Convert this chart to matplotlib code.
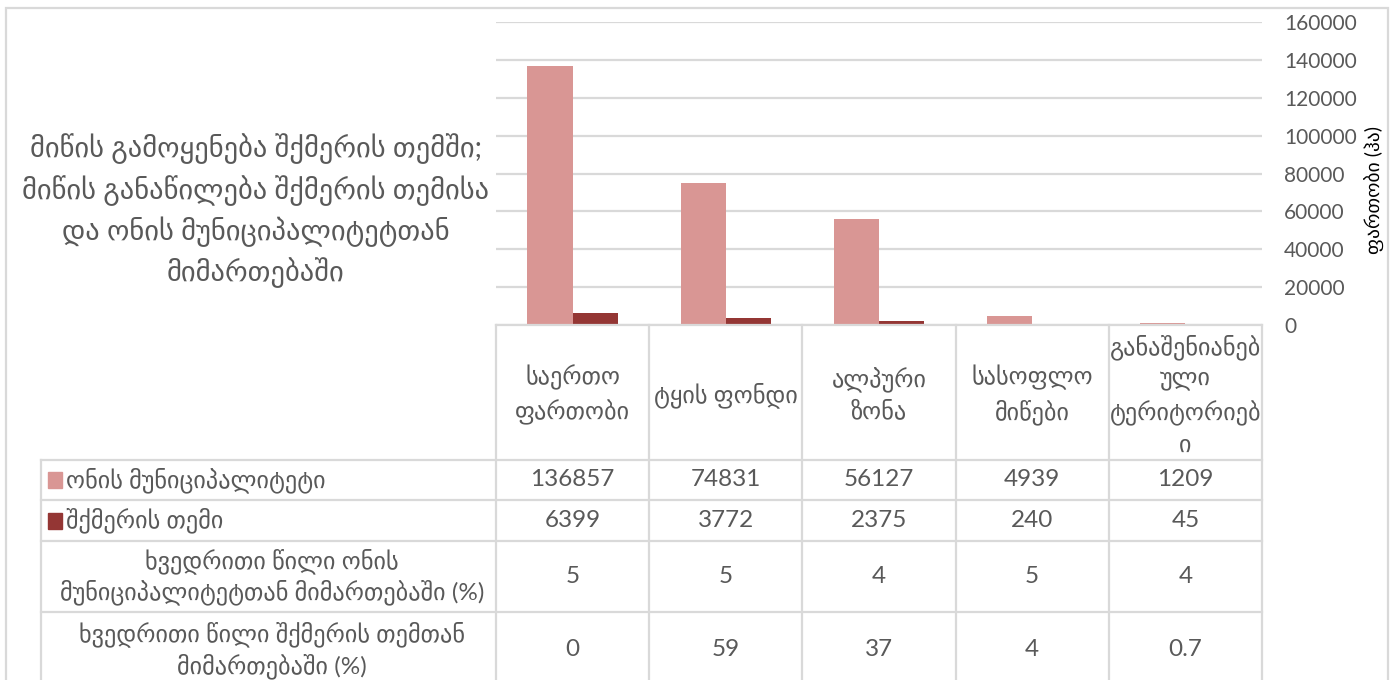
import matplotlib
matplotlib.use("Agg")
import matplotlib.pyplot as plt
from matplotlib.lines import Line2D
from matplotlib.patches import Rectangle

# data
categories = ["საერთო\nფართობი", "ტყის ფონდი", "ალპური\nზონა", "სასოფლო\nმიწები",
              "განაშენიანებ\nული\nტერიტორიებ\nი"]
oni = [136857, 74831, 56127, 4939, 1209]
shkmeri = [6399, 3772, 2375, 240, 45]
share_oni = ["5", "5", "4", "5", "4"]
share_shkmeri = ["0", "59", "37", "4", "0.7"]
series_names = ["ონის მუნიციპალიტეტი", "შქმერის თემი"]
extra_rows = ["ხვედრითი წილი ონის\nმუნიციპალიტეტთან მიმართებაში (%)",
              "ხვედრითი წილი შქმერის თემთან\nმიმართებაში (%)"]
title = "მიწის გამოყენება შქმერის თემში;\nმიწის განაწილება შქმერის თემისა\nდა ონის მუნიციპალიტეტთან\nმიმართებაში"
ylabel = "ფართობი (ჰა)"

pink = "#D99694"
dark = "#943634"
grid_c = "#D9D9D9"
text_c = "#595959"
fonts = ["Lato", "DejaVu Sans"]
tsize = 17.5

W, H = 1394, 680
fig = plt.figure(figsize=(W / 100, H / 100), dpi=100)


def fx(x):
    return x / W


def fy(y):
    return 1 - y / H


def hline(y, x0, x1):
    fig.add_artist(Line2D([fx(x0), fx(x1)], [fy(y), fy(y)], color=grid_c, lw=1.6))


def vline(x, y0, y1):
    fig.add_artist(Line2D([fx(x), fx(x)], [fy(y0), fy(y1)], color=grid_c, lw=1.6))


# plot area
left, right, top, base = 496, 1262, 22, 325
ax = fig.add_axes([fx(left), fy(base), fx(right - left), (base - top) / H])
n = len(categories)
w = 0.295
xs = list(range(n))
ax.bar([x - w / 2 for x in xs], oni, width=w, color=pink, zorder=3)
ax.bar([x + w / 2 for x in xs], shkmeri, width=w, color=dark, zorder=3)
ax.set_xlim(-0.5, n - 0.5)
ax.set_ylim(0, 160000)
ax.set_yticks(range(0, 160001, 20000))
ax.yaxis.tick_right()
ax.tick_params(axis="y", length=0, pad=16, labelsize=15, labelcolor=text_c)
for lab in ax.get_yticklabels():
    lab.set_family(fonts)
ax.set_xticks([])
ax.grid(axis="y", color=grid_c, lw=1.6, zorder=0)
for s in ax.spines.values():
    s.set_visible(False)

fig.text(fx(1375), fy(190), ylabel, rotation=90, ha="center", va="center",
         fontsize=14, color="black", family=fonts)

# title
fig.text(fx(256), fy(211), title, ha="center", va="center", fontsize=20.5,
         color=text_c, family=fonts, linespacing=1.45)

# outer border
fig.add_artist(Rectangle((fx(6), -0.05), fx(1388 - 6), fy(8) + 0.05, fill=False,
                         edgecolor=grid_c, lw=1.6))

# data table
col_x = [left + (right - left) * i / n for i in range(n + 1)]
row_y = [460, 500, 541, 612, 700]
hline(base, left, right)
for y in row_y[:-1]:
    hline(y, 41, right)
vline(41, 460, 700)
for x in col_x:
    vline(x, base, 700)

for i, cat in enumerate(categories):
    cx = (col_x[i] + col_x[i + 1]) / 2
    fig.text(fx(cx), fy(395), cat, ha="center", va="center",
             fontsize=tsize, color=text_c, family=fonts, linespacing=1.5)

rows = [oni, shkmeri, share_oni, share_shkmeri]
for r, vals in enumerate(rows):
    cy = (row_y[r] + row_y[r + 1]) / 2
    if r == 3:
        cy = 650
    for i, v in enumerate(vals):
        cx = (col_x[i] + col_x[i + 1]) / 2
        fig.text(fx(cx), fy(cy), str(v), ha="center", va="center",
                 fontsize=tsize, color=text_c, family=fonts)

for r, (name, col) in enumerate(zip(series_names, [pink, dark])):
    cy = (row_y[r] + row_y[r + 1]) / 2
    fig.add_artist(Rectangle((fx(48), fy(cy + 8)), fx(14), 16 / H, color=col))
    fig.text(fx(66), fy(cy), name, ha="left", va="center", fontsize=tsize,
             color=text_c, family=fonts)

for r, name in enumerate(extra_rows):
    cy = (row_y[r + 2] + row_y[r + 3]) / 2
    if r == 1:
        cy = 650
    fig.text(fx(272), fy(cy), name, ha="center", va="center", fontsize=tsize,
             color=text_c, family=fonts, linespacing=1.3)

fig.savefig("out.png", dpi=100)
